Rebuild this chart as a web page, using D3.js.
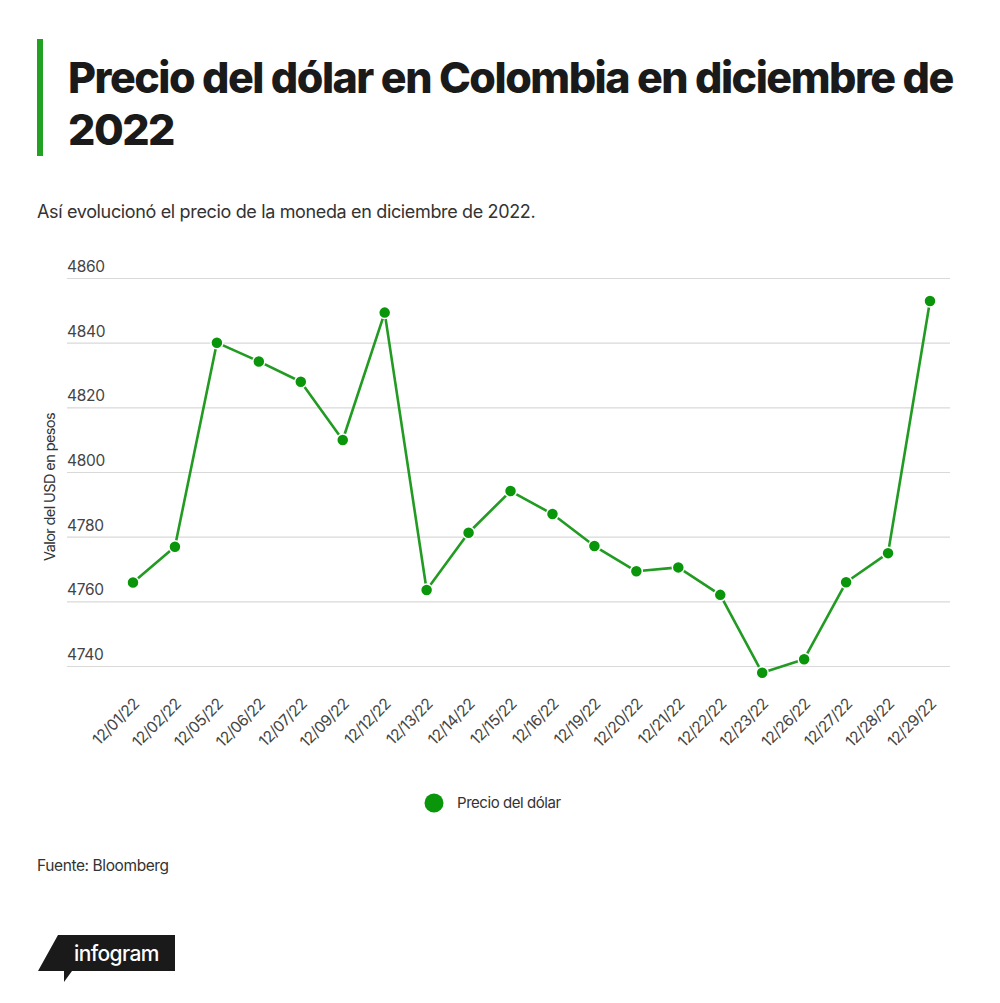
<!DOCTYPE html>
<html>
<head>
<meta charset="utf-8">
<script src="https://cdn.jsdelivr.net/npm/d3@7"></script>
<style>
  body { margin: 0; background: #fff; }
  svg { font-family: Inter, "Liberation Sans", sans-serif; }
  .grid line { stroke: #d9d9d9; stroke-width: 1.2; }
  .grid path { display: none; }
</style>
</head>
<body>
<div id="chart"></div>
<script>
  'use strict';

  var dates = ["12/01/22", "12/02/22", "12/05/22", "12/06/22", "12/07/22", "12/09/22", "12/12/22",
    "12/13/22", "12/14/22", "12/15/22", "12/16/22", "12/19/22", "12/20/22", "12/21/22",
    "12/22/22", "12/23/22", "12/26/22", "12/27/22", "12/28/22", "12/29/22"];
  var prices = [4765.8, 4776.9, 4840.0, 4834.2, 4827.9, 4809.9, 4849.3,
    4763.5, 4781.2, 4794.1, 4787.0, 4777.1, 4769.3, 4770.5,
    4762.0, 4737.9, 4742.1, 4765.9, 4774.9, 4852.9];
  var yTicks = [4740, 4760, 4780, 4800, 4820, 4840, 4860];

  var w = 1000;
  var h = 1003;
  var lineColor = "#229b22";
  var dotColor = "#0a960a";

  var svg = d3.select("#chart").append("svg")
    .attr("width", w)
    .attr("height", h);

  // title block
  svg.append("rect")
    .attr("x", 37)
    .attr("y", 39)
    .attr("width", 6)
    .attr("height", 117)
    .attr("fill", "#23a123");

  var title = svg.append("text")
    .attr("x", 68)
    .attr("font-size", 43)
    .attr("font-weight", 800)
    .attr("letter-spacing", -1.5)
    .attr("fill", "#1a1a1a");
  title.append("tspan").attr("x", 68).attr("y", 93).text("Precio del dólar en Colombia en diciembre de");
  title.append("tspan").attr("x", 68).attr("y", 145).text("2022");

  svg.append("text")
    .attr("x", 37)
    .attr("y", 218)
    .attr("font-size", 18)
    .attr("letter-spacing", -0.35)
    .attr("fill", "#333")
    .text("Así evolucionó el precio de la moneda en diciembre de 2022.");

  // scales
  var x = d3.scalePoint()
    .domain(dates)
    .range([133, 930]);

  var y = d3.scaleLinear()
    .domain([4740, 4860])
    .range([666, 278]);

  // grid
  svg.append("g")
    .attr("class", "grid")
    .attr("transform", "translate(67,0)")
    .call(d3.axisRight(y).tickValues(yTicks).tickSize(883).tickFormat(""));

  svg.append("g")
    .selectAll("text.ytick")
    .data(yTicks)
    .enter()
    .append("text")
    .attr("class", "ytick")
    .attr("x", 67)
    .attr("y", function (d) { return y(d) - 6; })
    .attr("font-size", 15.5)
    .attr("letter-spacing", -0.3)
    .attr("fill", "#444")
    .text(function (d) { return d; });

  svg.append("text")
    .attr("transform", "translate(55,487) rotate(-90)")
    .attr("text-anchor", "middle")
    .attr("font-size", 14.5)
    .attr("letter-spacing", -0.6)
    .attr("fill", "#333")
    .text("Valor del USD en pesos");

  // x labels
  svg.append("g")
    .selectAll("text.xtick")
    .data(dates)
    .enter()
    .append("text")
    .attr("class", "xtick")
    .attr("transform", function (d) {
      return "translate(" + (x(d) + 7) + ",705) rotate(-45)";
    })
    .attr("text-anchor", "end")
    .attr("font-size", 15.5)
    .attr("letter-spacing", -0.5)
    .attr("fill", "#444")
    .text(function (d) { return d; });

  // line + dots
  var line = d3.line()
    .x(function (d, i) { return x(dates[i]); })
    .y(function (d) { return y(d); });

  svg.append("path")
    .datum(prices)
    .attr("d", line)
    .attr("fill", "none")
    .attr("stroke", lineColor)
    .attr("stroke-width", 2.6)
    .attr("stroke-linejoin", "round");

  svg.append("g")
    .selectAll("circle")
    .data(prices)
    .enter()
    .append("circle")
    .attr("cx", function (d, i) { return x(dates[i]); })
    .attr("cy", function (d) { return y(d); })
    .attr("r", 6)
    .attr("fill", dotColor)
    .attr("stroke", "#fff")
    .attr("stroke-width", 1.5);

  // legend
  svg.append("circle")
    .attr("cx", 434)
    .attr("cy", 803)
    .attr("r", 9.5)
    .attr("fill", dotColor);
  svg.append("text")
    .attr("x", 457)
    .attr("y", 808)
    .attr("font-size", 15)
    .attr("letter-spacing", -0.45)
    .attr("fill", "#333")
    .text("Precio del dólar");

  svg.append("text")
    .attr("x", 37)
    .attr("y", 871)
    .attr("font-size", 15.5)
    .attr("letter-spacing", -0.4)
    .attr("fill", "#333")
    .text("Fuente: Bloomberg");

  // infogram badge
  var logo = svg.append("g");
  logo.append("path")
    .attr("d", "M58,935 L175,935 L175,971 L72,971 L64,982 L64,971 L38,971 Z")
    .attr("fill", "#1a1a1a");
  logo.append("text")
    .attr("x", 74)
    .attr("y", 961)
    .attr("font-size", 21)
    .attr("font-weight", 500)
    .attr("letter-spacing", -0.6)
    .attr("fill", "#fff")
    .text("infogram");
</script>
</body>
</html>
